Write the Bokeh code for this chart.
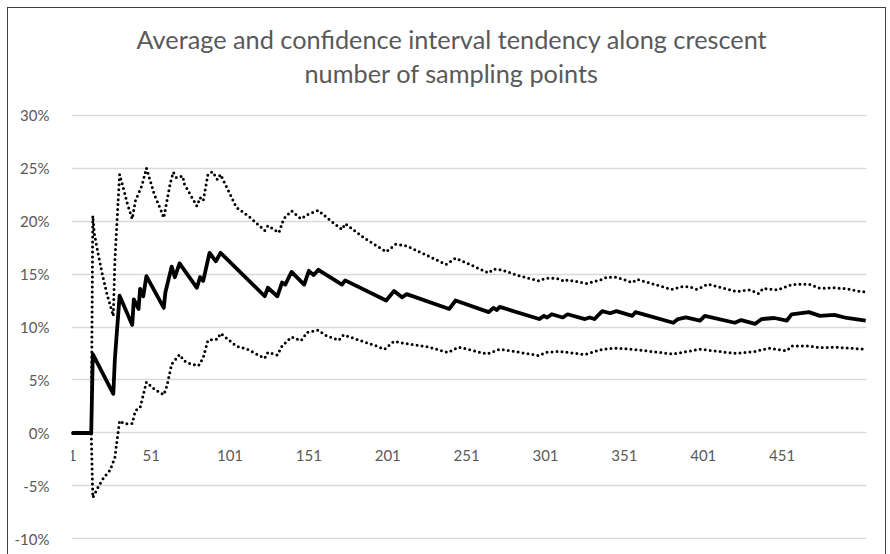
from bokeh.plotting import figure
from bokeh.models import FixedTicker, PrintfTickFormatter, Title, Range1d
from bokeh.embed import file_html
from bokeh.resources import INLINE

title_lines = ["Average and confidence interval tendency along crescent",
               "number of sampling points"]
x_ticks = [1, 51, 101, 151, 201, 251, 301, 351, 401, 451]
y_ticks = [-10, -5, 0, 5, 10, 15, 20, 25, 30]

mean_x = [1, 13, 14, 27, 28, 31, 39, 40, 43, 44, 46, 48, 59, 60, 64, 66, 69, 80, 82, 84,
          88, 92, 95, 123, 125, 131, 134, 136, 140, 148, 151, 154, 157, 172, 174, 200,
          205, 210, 213, 240, 244, 265, 268, 270, 272, 297, 300, 302, 305, 312, 315, 326,
          329, 332, 337, 342, 346, 356, 358, 382, 385, 390, 399, 402, 421, 425, 434, 438,
          446, 454, 457, 468, 475, 484, 492, 504]
mean_y = [0, 0, 7.45, 3.7, 7.0, 12.95, 10.2, 12.6, 11.7, 13.6, 12.9, 14.8, 11.8, 13.25,
          15.7, 14.7, 16.0, 13.7, 14.7, 14.35, 17.0, 16.2, 17.0, 12.9, 13.7, 12.9, 14.2,
          14.0, 15.2, 14.0, 15.3, 14.9, 15.4, 14.0, 14.4, 12.5, 13.4, 12.8, 13.1, 11.7,
          12.5, 11.4, 11.8, 11.6, 11.9, 10.75, 11.05, 10.9, 11.2, 10.9, 11.2, 10.75, 10.9,
          10.75, 11.5, 11.3, 11.5, 11.05, 11.4, 10.4, 10.75, 10.9, 10.6, 11.05, 10.4,
          10.65, 10.3, 10.75, 10.85, 10.6, 11.2, 11.4, 11.05, 11.15, 10.85, 10.6]

upper_x = [1, 13, 14, 15, 17, 20, 23, 27, 28, 31, 33, 36, 39, 41, 45, 47, 48, 53, 57, 59,
           61, 63, 65, 67, 71, 72, 80, 82, 84, 87, 90, 93, 95, 105, 114, 123, 125, 132,
           135, 140, 146, 150, 157, 165, 172, 174, 186, 200, 206, 213, 238, 244, 265, 268,
           273, 285, 297, 301, 308, 313, 315, 327, 337, 340, 346, 356, 359, 381, 387, 392,
           397, 404, 422, 431, 436, 439, 448, 457, 468, 475, 484, 492, 500, 504]
upper_y = [0, 0, 20.5, 18.8, 17.2, 15.0, 13.1, 11.05, 16.3, 24.4, 23.3, 21.6, 20.2, 21.9,
           23.3, 24.4, 25.0, 22.5, 21.1, 20.3, 21.9, 23.5, 24.6, 24.1, 24.25, 23.5, 21.4,
           22.2, 21.9, 24.4, 24.65, 23.9, 24.4, 21.3, 20.3, 19.1, 19.55, 18.9, 20.2, 20.95,
           20.2, 20.6, 21.0, 20.0, 19.2, 19.75, 18.4, 17.1, 17.8, 17.65, 15.9, 16.5, 15.1,
           15.45, 15.4, 14.8, 14.35, 14.6, 14.6, 14.3, 14.45, 14.1, 14.5, 14.7, 14.7, 14.2,
           14.5, 13.55, 13.8, 13.8, 13.55, 14.05, 13.35, 13.5, 13.15, 13.65, 13.5, 14.0,
           14.05, 13.65, 13.7, 13.6, 13.35, 13.3]

lower_x = [1, 13, 14, 17, 21, 25, 28, 31, 34, 39, 41, 44, 48, 53, 59, 61, 64, 69, 72, 76,
           81, 84, 87, 93, 95, 105, 112, 123, 125, 131, 134, 140, 146, 150, 157, 161, 170,
           173, 194, 199, 205, 212, 227, 239, 246, 264, 272, 285, 297, 301, 310, 326, 337,
           346, 356, 382, 399, 422, 434, 443, 454, 457, 469, 475, 484, 504]
lower_y = [0, 0, -6.1, -5.2, -4.2, -3.5, -2.3, 1.15, 0.85, 0.9, 2.1, 2.4, 4.8, 4.15, 3.6,
           4.45, 6.5, 7.4, 6.8, 6.5, 6.35, 7.1, 8.75, 8.85, 9.4, 8.2, 7.9, 7.05, 7.6, 7.35,
           8.2, 9.05, 8.7, 9.5, 9.7, 9.25, 8.75, 9.25, 8.2, 7.9, 8.65, 8.45, 8.1, 7.6, 8.1,
           7.45, 7.9, 7.6, 7.3, 7.6, 7.7, 7.4, 7.9, 8.0, 7.9, 7.45, 7.9, 7.5, 7.7, 8.0,
           7.75, 8.2, 8.2, 8.05, 8.1, 7.9]

TEXT = "#595959"
FONT = "Lato"
EDGE = "linear-gradient(#404040, #404040)"

p = figure(width=890, height=554, output_backend="svg", toolbar_location=None,
           x_range=Range1d(0.5, 504.5), y_range=Range1d(-10.05, 30.05),
           min_border_left=71, min_border_right=24, min_border_top=114,
           min_border_bottom=15,
           styles={"background-color": "white",
                   "background-image": ", ".join([EDGE] * 3),
                   "background-size": "1px 560px, 879px 1px, 1px 560px",
                   "background-position": "7px 7px, 7px 7px, 885px 7px",
                   "background-repeat": "no-repeat"})
p.title.text = ""

# titles stacked from the plot outward: spacer, second line, first line
p.add_layout(Title(text=" ", text_font_size="1px", standoff=24), "above")
p.add_layout(Title(text=title_lines[1], text_font=FONT, text_font_size="25.3px",
                   text_font_style="normal", text_color=TEXT, align="left",
                   offset=233, standoff=0), "above")
p.add_layout(Title(text=title_lines[0], text_font=FONT, text_font_size="25.3px",
                   text_font_style="normal", text_color=TEXT, align="left",
                   offset=65, standoff=4), "above")

p.outline_line_color = None
p.background_fill_color = "white"
p.border_fill_alpha = 0

p.xaxis.fixed_location = 0
p.xaxis.ticker = FixedTicker(ticks=x_ticks)
p.yaxis.ticker = FixedTicker(ticks=y_ticks)
p.yaxis.formatter = PrintfTickFormatter(format="%d%%")
for ax in (p.xaxis, p.yaxis):
    ax.axis_line_color = None
    ax.major_tick_line_color = None
    ax.minor_tick_line_color = None
    ax.major_label_text_font = FONT
    ax.major_label_text_font_size = "15px"
    ax.major_label_text_color = TEXT
p.xaxis.major_label_standoff = 11
p.yaxis.major_label_standoff = 16

p.xgrid.grid_line_color = None
p.ygrid.ticker = FixedTicker(ticks=y_ticks)
p.ygrid.grid_line_color = "#D9D9D9"
p.ygrid.grid_line_width = 1.3

dot = dict(line_color="black", line_width=3, line_dash="0 5", line_cap="round")
p.line(upper_x, upper_y, **dot)
p.line(lower_x, lower_y, **dot)
p.line(mean_x, mean_y, line_color="black", line_width=3.8, line_join="round")

open("out.html", "w").write(file_html(p, INLINE))
